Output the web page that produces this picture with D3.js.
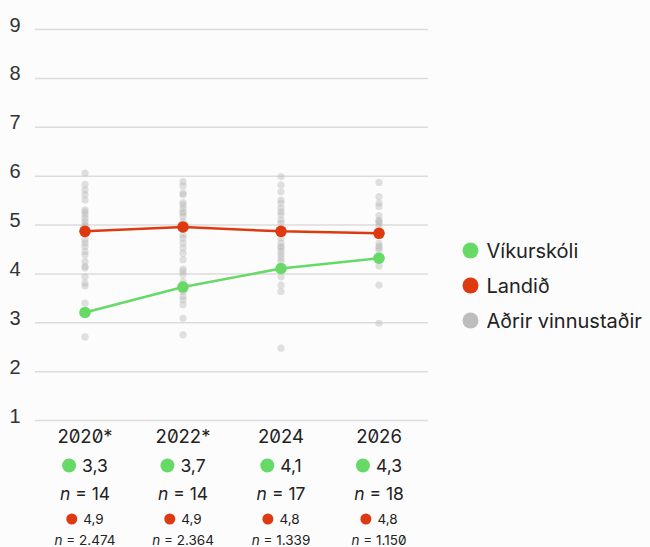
<!DOCTYPE html>
<html>
<head>
<meta charset="utf-8">
<script src="https://cdn.jsdelivr.net/npm/d3@7"></script>
<style>
  html, body { margin: 0; padding: 0; background: #fcfcfc; }
  svg { display: block; font-family: Inter, "Noto Sans", sans-serif; font-feature-settings: "zero" 1; }
</style>
</head>
<body>
<svg id="chart" width="650" height="547"></svg>
<script>
const years = ['2020*', '2022*', '2024', '2026'];
const yTicks = [1, 2, 3, 4, 5, 6, 7, 8, 9];

// Víkurskóli
const schoolValues = [3.2, 3.72, 4.1, 4.31];
const schoolLabels = ['3,3', '3,7', '4,1', '4,3'];
const schoolN = [14, 14, 17, 18];

// Landið
const nationalValues = [4.86, 4.95, 4.86, 4.82];
const nationalLabels = ['4,9', '4,9', '4,8', '4,8'];
const nationalN = [2474, 2364, 1339, 1150];

// Aðrir vinnustaðir
const others2020 = [6.05, 5.82, 5.71, 5.61, 5.5, 5.3, 5.26, 5.2, 5.13, 5.06, 5.0, 4.96, 4.9, 4.8, 4.69, 4.62, 4.55, 4.45, 4.38, 4.24, 4.14, 4.11, 3.93, 3.8, 3.74, 3.39, 2.7];
const others2022 = [5.88, 5.79, 5.64, 5.61, 5.45, 5.4, 5.33, 5.26, 5.23, 5.16, 5.06, 4.99, 4.79, 4.72, 4.62, 4.52, 4.41, 4.28, 4.09, 4.04, 3.97, 3.83, 3.76, 3.63, 3.53, 3.46, 3.36, 3.08, 2.74];
const others2024 = [5.98, 5.81, 5.67, 5.5, 5.44, 5.33, 5.26, 5.2, 5.09, 5.03, 4.83, 4.72, 4.62, 4.55, 4.52, 4.45, 4.38, 4.31, 4.24, 4.07, 3.93, 3.76, 3.63, 2.47];
const others2026 = [5.86, 5.57, 5.44, 5.37, 5.18, 5.09, 5.06, 5.03, 4.96, 4.79, 4.62, 4.56, 4.52, 4.47, 4.34, 4.28, 4.15, 3.76, 2.98];
const others = [others2020, others2022, others2024, others2026];

const legendLabels = ['Víkurskóli', 'Landið', 'Aðrir vinnustaðir'];
const colors = { school: '#67d967', national: '#dd3a12', other: '#bdbdbd' };

const locale = d3.formatLocale({ decimal: ',', thousands: '.', grouping: [3], currency: ['', ''] });
const fmtN = locale.format(',d');

const svg = d3.select('#chart');

const x = d3.scalePoint().domain(years).range([36, 428]).padding(0.5);
const y = d3.scaleLinear().domain([1, 9]).range([420, 29]);

// gridlines + y labels
const yAxis = svg.append('g')
    .call(d3.axisLeft(y).tickValues(yTicks).tickSize(-393).tickFormat(d3.format('d')))
    .attr('transform', 'translate(35,0)');
yAxis.select('.domain').remove();
yAxis.selectAll('.tick line').attr('stroke', '#dcdcdc').attr('stroke-width', 1.5);
yAxis.selectAll('.tick text')
    .attr('x', -20)
    .attr('dy', '0.1em')
    .attr('text-anchor', 'middle')
    .attr('font-size', 20)
    .attr('fill', '#333');

// other workplaces
years.forEach((yr, i) => {
    svg.append('g')
        .selectAll('circle')
        .data(others[i])
        .join('circle')
        .attr('cx', x(yr))
        .attr('cy', d => y(d))
        .attr('r', 3.6)
        .attr('fill', '#b8b8b8')
        .attr('fill-opacity', 0.42);
});

const line = d3.line().x((d, i) => x(years[i])).y(d => y(d));

const drawSeries = (values, color) => {
    svg.append('path')
        .datum(values)
        .attr('d', line)
        .attr('fill', 'none')
        .attr('stroke', color)
        .attr('stroke-width', 2.5);
    svg.append('g')
        .selectAll('circle')
        .data(values)
        .join('circle')
        .attr('cx', (d, i) => x(years[i]))
        .attr('cy', d => y(d))
        .attr('r', 5.8)
        .attr('fill', color);
};
drawSeries(nationalValues, colors.national);
drawSeries(schoolValues, colors.school);

// bottom labels per year
const cols = svg.append('g')
    .selectAll('g')
    .data(years)
    .join('g')
    .attr('transform', d => `translate(${x(d)},0)`);

cols.append('text')
    .attr('y', 437)
    .attr('dy', '0.35em')
    .attr('text-anchor', 'middle')
    .attr('font-size', 18.5)
    .attr('fill', '#222')
    .text(d => d);

const valueRow = (sel, yPos, r, fontSize, labels, color) => {
    const g = sel.append('g');
    g.append('text')
        .attr('y', yPos)
        .attr('dy', '0.35em')
        .attr('font-size', fontSize)
        .attr('fill', '#222')
        .text((d, i) => labels[i]);
    g.each(function () {
        const gg = d3.select(this);
        const w = gg.select('text').node().getComputedTextLength();
        const gap = r + 6;
        const total = r + gap + w;
        const left = -total / 2;
        gg.append('circle')
            .attr('cx', left + r)
            .attr('cy', yPos)
            .attr('r', r)
            .attr('fill', color);
        gg.select('text').attr('x', left + r + gap);
    });
};
valueRow(cols, 465.5, 7, 17.5, schoolLabels, colors.school);
valueRow(cols, 519, 5.5, 13.5, nationalLabels, colors.national);

const nRow = (sel, yPos, fontSize, values) => {
    const t = sel.append('text')
        .attr('y', yPos)
        .attr('dy', '0.35em')
        .attr('text-anchor', 'middle')
        .attr('font-size', fontSize)
        .attr('fill', '#222');
    t.append('tspan').attr('font-style', 'italic').text('n');
    t.append('tspan').text((d, i) => ' = ' + values[i]);
};
nRow(cols, 494, 17.5, schoolN);
nRow(cols, 540.5, 13.5, nationalN.map(fmtN));

// legend
const legend = svg.append('g')
    .selectAll('g')
    .data(legendLabels)
    .join('g')
    .attr('transform', (d, i) => `translate(470.5,${250.5 + i * 35})`);
legend.append('circle')
    .attr('r', 8)
    .attr('fill', (d, i) => [colors.school, colors.national, colors.other][i]);
legend.append('text')
    .attr('x', 16)
    .attr('dy', '0.35em')
    .attr('font-size', 20)
    .attr('fill', '#222')
    .text(d => d);
</script>
</body>
</html>
